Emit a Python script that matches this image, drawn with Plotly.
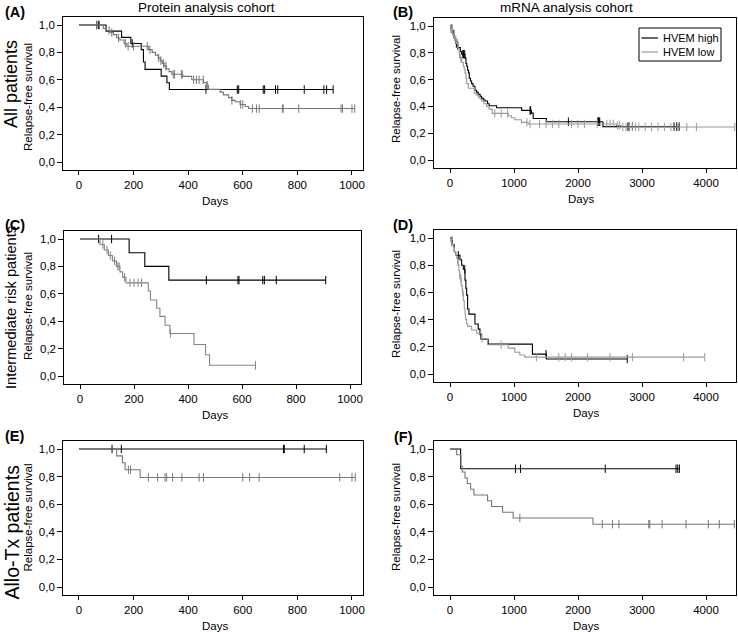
import numpy as np
import plotly.graph_objects as go

W, H = 738, 632

# ---------------- data (days, survival, censor days) ----------------
# Panel A: protein cohort, all patients
A_high_t = [0, 99, 156, 190, 228, 236, 242, 301, 322, 331]
A_high_s = [1.0, 0.955, 0.91, 0.865, 0.82, 0.73, 0.676, 0.627, 0.578, 0.529]
A_high_c = [65, 72, 195, 465, 580, 585, 675, 680, 720, 728, 825, 897, 907, 931]
A_low_t = [0, 89, 101, 114, 126, 138, 150, 165, 175, 254, 268, 280, 290, 298, 305, 312,
           320, 330, 340, 380, 413, 456, 466, 474, 517, 529, 548, 560, 572, 590, 609, 621]
A_low_s = [1.0, 0.975, 0.96, 0.945, 0.93, 0.905, 0.89, 0.865, 0.845, 0.82, 0.80, 0.78,
           0.76, 0.74, 0.72, 0.70, 0.68, 0.66, 0.64, 0.625, 0.60, 0.58, 0.56, 0.53, 0.51,
           0.49, 0.47, 0.45, 0.44, 0.42, 0.405, 0.39]
A_low_c = [65, 75, 110, 120, 145, 170, 180, 200, 250, 260, 292, 300, 310, 318, 345, 350,
           375, 378, 420, 430, 440, 455, 470, 560, 592, 600, 635, 650, 660, 745, 748, 805,
           960, 965, 1000, 1010]

# Panel B: mRNA cohort, all patients
B_high_t = [0, 15, 35, 52, 70, 88, 110, 130, 161, 182, 234, 249, 262, 275, 290, 301, 320,
            338, 360, 390, 415, 441, 470, 494, 520, 545, 587, 613, 727, 1120, 1273, 1300,
            1506, 2390]
B_high_s = [1.0, 0.98, 0.96, 0.94, 0.91, 0.87, 0.855, 0.84, 0.81, 0.79, 0.76, 0.72, 0.70,
            0.67, 0.65, 0.61, 0.59, 0.57, 0.55, 0.52, 0.505, 0.49, 0.475, 0.46, 0.45, 0.44,
            0.42, 0.405, 0.39, 0.37, 0.35, 0.31, 0.286, 0.249]
B_high_c = [20, 30, 60, 100, 120, 200, 210, 230, 1250, 1260, 1850, 2310, 2320, 2330, 2340,
            2780, 2800, 2850, 3500, 3540, 3580]
B_low_t = [0, 10, 25, 45, 60, 78, 100, 130, 145, 156, 180, 208, 222, 234, 248, 260, 286,
           379, 410, 441, 470, 494, 530, 571, 610, 660, 909, 960, 1013, 1117, 1221, 2600,
           2675]
B_low_s = [1.0, 0.98, 0.96, 0.94, 0.92, 0.90, 0.87, 0.83, 0.79, 0.76, 0.73, 0.70, 0.675,
           0.65, 0.61, 0.57, 0.535, 0.50, 0.485, 0.47, 0.455, 0.44, 0.42, 0.40, 0.38,
           0.348, 0.33, 0.315, 0.30, 0.281, 0.269, 0.258, 0.246]
B_low_c = [20, 40, 70, 90, 120, 150, 170, 700, 800, 900, 1200, 1250, 1400, 1500, 1600,
           1700, 1900, 2000, 2100, 2300, 2450, 2500, 2550, 2620, 2650, 2700, 2750, 2800,
           2850, 2900, 2950, 3050, 3150, 3250, 3350, 3450, 3550, 3700, 3850, 4450]

# Panel C: protein cohort, intermediate risk
C_high_t = [0, 182, 240, 329]
C_high_s = [1.0, 0.9, 0.8, 0.7]
C_high_c = [69, 117, 468, 585, 589, 677, 683, 727, 910]
C_low_t = [0, 74, 90, 105, 120, 135, 148, 158, 170, 253, 261, 284, 296, 315, 333, 422,
           465, 480]
C_low_s = [1.0, 0.96, 0.92, 0.88, 0.84, 0.80, 0.76, 0.72, 0.68, 0.62, 0.555, 0.495,
           0.435, 0.37, 0.31, 0.23, 0.155, 0.078]
C_low_c = [85, 100, 112, 128, 140, 145, 165, 185, 200, 215, 228, 335, 650]

# Panel D: mRNA cohort, intermediate risk
D_high_t = [0, 20, 36, 68, 88, 156, 182, 208, 234, 248, 260, 275, 296, 390, 441, 468,
            483, 597, 1288, 1506]
D_high_s = [1.0, 0.98, 0.95, 0.90, 0.873, 0.84, 0.80, 0.77, 0.69, 0.63, 0.58, 0.478,
            0.44, 0.368, 0.33, 0.29, 0.256, 0.22, 0.146, 0.11]
D_high_c = [30, 130, 230, 1500, 2770]
D_low_t = [0, 15, 35, 52, 70, 88, 105, 119, 130, 140, 150, 161, 175, 192, 208, 223, 235,
           244, 260, 275, 338, 416, 494, 587, 909, 1013, 1091, 1169]
D_low_s = [1.0, 0.97, 0.95, 0.93, 0.90, 0.87, 0.85, 0.83, 0.80, 0.76, 0.73, 0.70, 0.65,
           0.60, 0.54, 0.48, 0.44, 0.40, 0.37, 0.35, 0.324, 0.30, 0.26, 0.215, 0.19, 0.16,
           0.14, 0.124]
D_low_c = [25, 60, 120, 150, 170, 200, 500, 800, 1350, 1700, 1800, 1900, 2150, 2500,
           2850, 3650, 3980]

# Panel E: protein cohort, allo-Tx
E_high_t = [0]
E_high_s = [1.0]
E_high_c = [121, 155, 749, 752, 825, 906]
E_low_t = [0, 138, 159, 169, 224]
E_low_s = [1.0, 0.95, 0.90, 0.85, 0.794]
E_low_c = [181, 189, 254, 288, 315, 321, 343, 377, 440, 456, 600, 625, 660, 955, 1000,
           1012]

# Panel F: mRNA cohort, allo-Tx
F_high_t = [0, 166]
F_high_s = [1.0, 0.857]
F_high_c = [1023, 1101, 2426, 3532, 3558, 3584]
F_low_t = [0, 104, 171, 192, 234, 270, 322, 374, 587, 649, 821, 987, 2234]
F_low_s = [1.0, 0.958, 0.875, 0.833, 0.79, 0.75, 0.708, 0.667, 0.625, 0.583, 0.542,
           0.50, 0.455]
F_low_c = [1091, 2379, 2540, 2639, 3106, 3122, 3314, 3688, 4036, 4208, 4442]

# tick labels
y_tickvals = [0.0, 0.2, 0.4, 0.6, 0.8, 1.0]
y_ticktext = ["0,0", "0,2", "0,4", "0,6", "0,8", "1,0"]
x_ticks_protein = [0, 200, 400, 600, 800, 1000]
x_ticks_mrna = [0, 1000, 2000, 3000, 4000]

col_titles = ["Protein analysis cohort", "mRNA analysis cohort"]
row_titles = ["All patients", "Intermediate risk patients", "Allo-Tx patients"]
legend_names = ["HVEM high", "HVEM low"]

# ---------------- layout geometry (pixels) ----------------
FONT = "Liberation Sans"
HIGH_COLOR = "#000000"


def px_x(p):
    return p / W


def px_y(p):
    return 1 - p / H


panels = [
    dict(lab="(A)", hi=(A_high_t, A_high_s, A_high_c), lo=(A_low_t, A_low_s, A_low_c),
         x0=79, xs=0.273, y1=25, y0=162, lc="#777777", kind="p", lab_xy=(14.5, 12)),
    dict(lab="(B)", hi=(B_high_t, B_high_s, B_high_c), lo=(B_low_t, B_low_s, B_low_c),
         x0=450, xs=0.064, y1=26, y0=160, lc="#9a9a9a", kind="m", lab_xy=(403, 12)),
    dict(lab="(C)", hi=(C_high_t, C_high_s, C_high_c), lo=(C_low_t, C_low_s, C_low_c),
         x0=80, xs=0.27, y1=239, y0=376, lc="#858585", kind="p", lab_xy=(14.5, 225)),
    dict(lab="(D)", hi=(D_high_t, D_high_s, D_high_c), lo=(D_low_t, D_low_s, D_low_c),
         x0=450, xs=0.064, y1=238, y0=374, lc="#9a9a9a", kind="m", lab_xy=(403, 225)),
    dict(lab="(E)", hi=(E_high_t, E_high_s, E_high_c), lo=(E_low_t, E_low_s, E_low_c),
         x0=79, xs=0.273, y1=449, y0=587, lc="#777777", kind="p", lab_xy=(14.5, 436)),
    dict(lab="(F)", hi=(F_high_t, F_high_s, F_high_c), lo=(F_low_t, F_low_s, F_low_c),
         x0=450, xs=0.064, y1=449, y0=587, lc="#777777", kind="m", lab_xy=(403, 437)),
]

XR = {"p": [-58, 1042], "m": [-250, 4470]}
YR = [-0.06, 1.06]

ytitle_pos = [(28, 97), (396, 89), (28, 306), (396, 304), (27.5, 518), (396, 517)]
days_pos = [(215, 201), (581, 199), (215, 415), (586, 413), (215, 626), (586, 626)]


def km_line(t, s, c):
    end = max(max(c) if c else 0, t[-1])
    return list(t) + [end], list(s) + [s[-1]]


def censor_y(t, s, c):
    idx = np.searchsorted(np.array(t), np.array(c), side="right") - 1
    return list(np.array(s)[idx])


fig = go.Figure()
layout = dict()
annotations = []

for i, p in enumerate(panels, start=1):
    xa = "x" if i == 1 else f"x{i}"
    ya = "y" if i == 1 else f"y{i}"
    xr = XR[p["kind"]]
    left = p["x0"] + xr[0] * p["xs"]
    right = p["x0"] + xr[1] * p["xs"]
    ys = (p["y0"] - p["y1"])
    top = p["y1"] - (YR[1] - 1.0) * ys
    bot = p["y0"] - YR[0] * ys
    for key, color in (("hi", HIGH_COLOR), ("lo", p["lc"])):
        t, s, c = p[key]
        lx, ly = km_line(t, s, c)
        fig.add_trace(go.Scatter(x=lx, y=ly, mode="lines", line=dict(color=color, width=1.1,
                                 shape="hv"), xaxis=xa, yaxis=ya, showlegend=False,
                                 hoverinfo="skip"))
        fig.add_trace(go.Scatter(x=c, y=censor_y(t, s, c), mode="markers",
                                 marker=dict(symbol="line-ns-open", size=6, color=color,
                                             line=dict(color=color, width=1)),
                                 xaxis=xa, yaxis=ya, showlegend=False, hoverinfo="skip"))
    axis_common = dict(showline=True, mirror=True, linecolor="black", linewidth=1,
                       ticks="outside", ticklen=4, tickwidth=1, tickcolor="black",
                       showgrid=False, zeroline=False,
                       tickfont=dict(family=FONT, size=11.5, color="black"))
    layout["xaxis" if i == 1 else f"xaxis{i}"] = dict(
        axis_common, domain=[px_x(left), px_x(right)], range=xr, anchor=ya,
        tickvals=x_ticks_protein if p["kind"] == "p" else x_ticks_mrna)
    layout["yaxis" if i == 1 else f"yaxis{i}"] = dict(
        axis_common, domain=[px_y(bot), px_y(top)], range=YR, anchor=xa,
        tickvals=y_tickvals, ticktext=y_ticktext, ticklen=5)
    annotations.append(dict(text="<b>" + p["lab"] + "</b>", x=px_x(p["lab_xy"][0]),
                            y=px_y(p["lab_xy"][1]), xref="paper", yref="paper",
                            showarrow=False, xanchor="center", yanchor="middle",
                            font=dict(family=FONT, size=14.5, color="black")))
    tx, ty = ytitle_pos[i - 1]
    annotations.append(dict(text="Relapse-free survival", x=px_x(tx), y=px_y(ty),
                            xref="paper", yref="paper", showarrow=False, textangle=-90,
                            xanchor="center", yanchor="middle",
                            font=dict(family=FONT, size=11.5, color="black")))
    dx, dy = days_pos[i - 1]
    annotations.append(dict(text="Days", x=px_x(dx), y=px_y(dy), xref="paper",
                            yref="paper", showarrow=False, xanchor="center",
                            yanchor="middle", font=dict(family=FONT, size=11.5,
                                                        color="black")))

for txt, cx in zip(col_titles, (206, 566)):
    annotations.append(dict(text=txt, x=px_x(cx), y=px_y(7.5), xref="paper", yref="paper",
                            showarrow=False, xanchor="center", yanchor="middle",
                            font=dict(family=FONT, size=13.5, color="black")))
for txt, cy, fs in zip(row_titles, (84, 308, 532.5), (18, 14.6, 19.5)):
    annotations.append(dict(text=txt, x=px_x(11), y=px_y(cy), xref="paper", yref="paper",
                            showarrow=False, textangle=-90, xanchor="center",
                            yanchor="middle", font=dict(family=FONT, size=fs,
                                                        color="black")))

shapes = [dict(type="rect", xref="paper", yref="paper", x0=px_x(639), x1=px_x(721),
               y0=px_y(61), y1=px_y(28), line=dict(color="black", width=1),
               fillcolor="white", layer="above")]
for name, color, ly in zip(legend_names, (HIGH_COLOR, "#9a9a9a"), (38, 52)):
    shapes.append(dict(type="line", xref="paper", yref="paper", x0=px_x(641.5),
                       x1=px_x(658), y0=px_y(ly), y1=px_y(ly),
                       line=dict(color=color, width=1.2), layer="above"))
    annotations.append(dict(text=name, x=px_x(661), y=px_y(ly), xref="paper", yref="paper",
                            showarrow=False, xanchor="left", yanchor="middle",
                            font=dict(family=FONT, size=11, color="black")))

fig.update_layout(**layout)
fig.update_layout(width=W, height=H, margin=dict(l=0, r=0, t=0, b=0),
                  paper_bgcolor="white", plot_bgcolor="white", showlegend=False,
                  annotations=annotations, shapes=shapes,
                  font=dict(family=FONT, color="black"))

fig.write_html("out.html", config={"displayModeBar": False, "staticPlot": True},
               post_script="document.body.style.margin='0px';"
                           "document.body.style.padding='0px';")
